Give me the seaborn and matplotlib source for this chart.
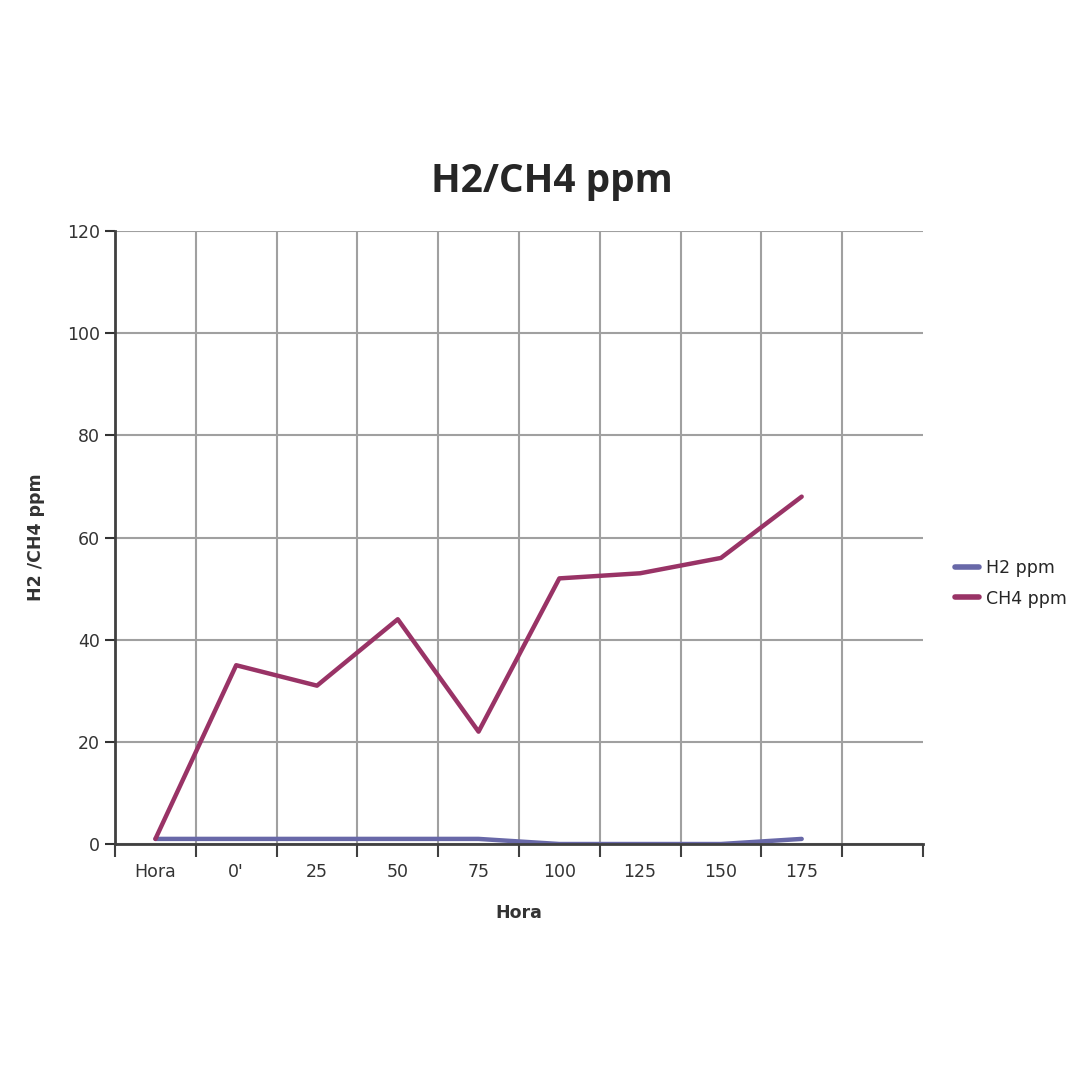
import numpy as np
import pandas as pd
import seaborn as sns
import matplotlib.pyplot as plt

horas = ['Hora', "0'", '25', '50', '75', '100', '125', '150', '175']
h2_ppm = [1, 1, 1, 1, 1, 0, 0, 0, 1]
ch4_ppm = [1, 35, 31, 44, 22, 52, 53, 56, 68]

df = pd.DataFrame({
    'Hora': horas * 2,
    'ppm': h2_ppm + ch4_ppm,
    'serie': ['H2 ppm'] * len(horas) + ['CH4 ppm'] * len(horas),
})
df['pos'] = list(range(len(horas))) * 2

sns.set_style('white')
plt.rcParams['font.family'] = ['DejaVu Sans']

fig = plt.figure(figsize=(10.8, 10.8), dpi=100)
ax = fig.add_axes([0.1065, 0.2185, 0.748, 0.5676])

colors = {'H2 ppm': '#6868a8', 'CH4 ppm': '#993366'}
sns.lineplot(data=df, x='pos', y='ppm', hue='serie', palette=colors,
             linewidth=3.2, sort=False, ax=ax, legend=True)

ax.set_xlim(-0.5, 9.5)
ax.set_ylim(0, 120)
ax.set_yticks(np.arange(0, 121, 20))
ax.set_xticks(range(len(horas)))
ax.set_xticklabels(horas)
ax.set_xticks(np.arange(-0.5, 10, 1), minor=True)

ax.grid(False)
ax.grid(True, axis='y', which='major', color='#a0a0a0', linewidth=1.5)
ax.grid(True, axis='x', which='minor', color='#a0a0a0', linewidth=1.5)
ax.set_axisbelow(True)
# no grid line on the outer boundaries
minor = ax.xaxis.get_minor_ticks()
minor[0].gridline.set_visible(False)
minor[-1].gridline.set_visible(False)

for s in ['top', 'right']:
    ax.spines[s].set_visible(False)
for s in ['left', 'bottom']:
    ax.spines[s].set_color('#404040')
    ax.spines[s].set_linewidth(2)

ax.tick_params(axis='x', which='major', bottom=False, length=0, pad=14,
               labelsize=12.5, colors='#333333')
ax.tick_params(axis='x', which='minor', bottom=True, length=9, width=1.5,
               direction='out', color='#404040')
ax.tick_params(axis='y', which='major', left=True, length=7, width=1.5,
               direction='out', labelsize=12.5, colors='#333333', pad=4)

ax.set_xlabel('Hora', fontsize=12.5, fontweight='bold', color='#333333', labelpad=16)
ax.set_ylabel('H2 /CH4 ppm', fontsize=12.5, fontweight='bold', color='#333333', labelpad=16)

fig.text(0.511, 0.832, 'H2/CH4 ppm', ha='center', va='center', fontsize=28,
         fontweight='bold', family=['Liberation Sans Narrow', 'Open Sans', 'DejaVu Sans'])

leg = ax.legend(loc='center left', bbox_to_anchor=(1.02, 0.425), frameon=False,
                fontsize=12.5, handlelength=1.4, handletextpad=0.4, labelspacing=0.7)
for line in leg.get_lines():
    line.set_linewidth(4)

fig.savefig('out.png', dpi=100)
